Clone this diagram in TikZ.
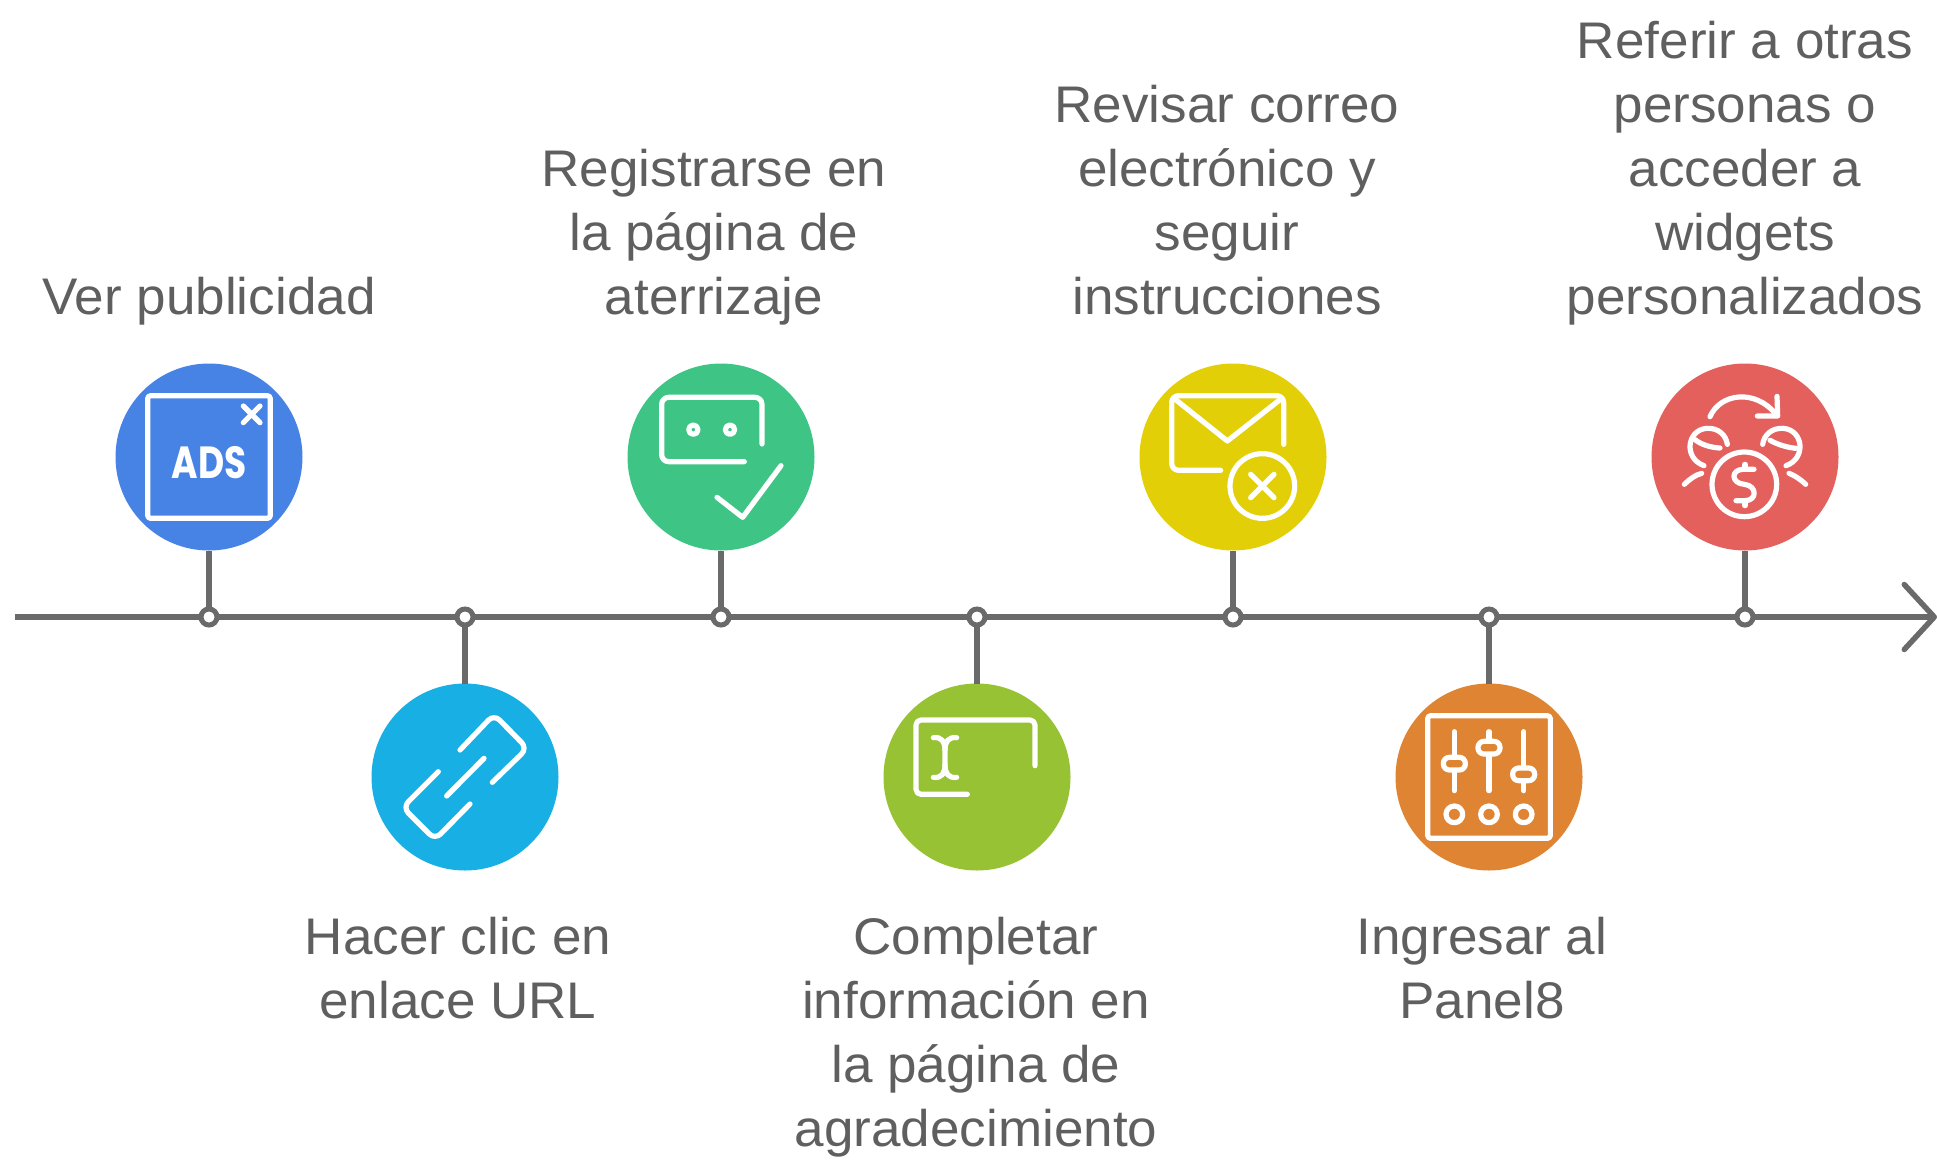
\documentclass[tikz,border=0pt]{standalone}
\usepackage{fontspec}
\setmainfont[FakeStretch=1.03]{Liberation Sans}
\newfontfamily\adsfont{Poppins}
\usetikzlibrary{arrows.meta}
\definecolor{linegrey}{HTML}{6A6A6A}
\definecolor{textgrey}{HTML}{5F5F5F}
\definecolor{cblue}{HTML}{4783E5}
\definecolor{ccyan}{HTML}{18B0E4}
\definecolor{cgreen}{HTML}{3EC585}
\definecolor{clime}{HTML}{96C233}
\definecolor{cyellow}{HTML}{E2CF08}
\definecolor{corange}{HTML}{DE8433}
\definecolor{cred}{HTML}{E3605D}
\tikzset{
  bigcirc/.style={circle,fill=#1,draw=none,inner sep=0pt,outer sep=0pt,minimum size=187pt},
  dotmark/.style={circle,fill=white,draw=linegrey,line width=5pt,inner sep=0pt,minimum size=16pt},
  conn/.style={draw=linegrey,line width=5.5pt},
  lab/.style={text=textgrey,inner sep=0pt,align=center,font=\fontsize{51.5}{64}\selectfont},
  toplab/.style={lab,anchor=south},
  botlab/.style={lab,anchor=north},
  iconline/.style={draw=white,line width=5.2pt,line cap=round,line join=round},
}
\newcommand{\st}{\strut}
\begin{document}
\begin{tikzpicture}[x=1pt,y=-1pt]
\useasboundingbox (0,0) rectangle (1937,1162);
% axis
\coordinate (axisstart) at (15,617);
\coordinate (axisend) at (1937,617);
\draw[conn,-{Straight Barb[length=30pt,width=65pt,round]}] (axisstart) -- (axisend);
% circles
\node[bigcirc=cblue] (c1) at (209,457) {};
\node[bigcirc=ccyan] (c2) at (465,777) {};
\node[bigcirc=cgreen] (c3) at (721,457) {};
\node[bigcirc=clime] (c4) at (977,777) {};
\node[bigcirc=cyellow] (c5) at (1233,457) {};
\node[bigcirc=corange] (c6) at (1489,777) {};
\node[bigcirc=cred] (c7) at (1745,457) {};
% dots
\foreach \n/\x in {1/209,2/465,3/721,4/977,5/1233,6/1489,7/1745}{
  \draw[conn] (c\n) -- (\x,617) coordinate (j\n);
  \node[dotmark] (d\n) at (j\n) {};
}
% labels
\node[toplab] (l1) at (209,334) {\st Ver publicidad};
\node[botlab] (l2) at (458,909) {\st Hacer clic en\\\st enlace URL};
\node[toplab] (l3) at (714,334) {\st Registrarse en\\\st la página de\\\st aterrizaje};
\node[botlab] (l4) at (976,909) {\st Completar\\\st información en\\\st la página de\\\st agradecimiento};
\node[toplab] (l5) at (1227,334) {\st Revisar correo\\\st electrónico y\\\st seguir\\\st instrucciones};
\node[botlab] (l6) at (1482,909) {\st Ingresar al\\\st Panel8};
\node[toplab] (l7) at (1745,334) {\st Referir a otras\\\st personas o\\\st acceder a\\\st widgets\\\st personalizados};
% icon 1
\begin{scope}[xshift=100pt,yshift=-350pt,x=.33333pt,y=-.33333pt]
  \draw[iconline,rounded corners=3pt] (143,137) rectangle (511,505);
  \draw[iconline] (430,168)--(480,218) (480,168)--(430,218);
  \node[text=white,inner sep=0pt,font=\adsfont\bfseries\fontsize{45}{45}\selectfont,xscale=.8] (adsicon) at (327,337) {ADS};
\end{scope}
% icon 2
\begin{scope}[xshift=360pt,yshift=-670pt,x=.33333pt,y=-.33333pt]
  \draw[iconline,rounded corners=8pt] (300,240)--(402,133)--(502,235)--(397,337);
  \draw[iconline,rounded corners=8pt] (235,305)--(128,412)--(225,509)--(330,402);
  \draw[iconline] (260,378)--(372,265);
\end{scope}
% icon 3
\begin{scope}[xshift=620pt,yshift=-355pt,x=.33333pt,y=-.33333pt]
  \draw[iconline,rounded corners=7pt] (426,267)--(426,127)--(125,127)--(125,320)--(373,320);
  \draw[iconline] (220,224) circle[radius=14] (330,224) circle[radius=14];
  \draw[iconline] (291,427)--(368,487)--(483,332);
\end{scope}
% icon 4
\begin{scope}[xshift=880pt,yshift=-670pt,x=.33333pt,y=-.33333pt]
  \draw[iconline,rounded corners=5pt] (465,287)--(465,150)--(108,150)--(108,373)--(262,373);
  \draw[iconline] (160,203) .. controls (185,200) and (195,215) .. (195,240) -- (195,285) .. controls (195,310) and (185,325) .. (160,322);
  \draw[iconline] (230,203) .. controls (205,200) and (195,215) .. (195,240) (195,285) .. controls (195,310) and (205,325) .. (230,322);
\end{scope}
% icon 5
\begin{scope}[xshift=1130pt,yshift=-355pt,x=.33333pt,y=-.33333pt]
  \draw[iconline,rounded corners=7pt] (461,268)--(461,122)--(125,122)--(125,346)--(272,346);
  \draw[iconline] (132,130)--(292,258)--(455,130);
  \draw[iconline] (397,393) circle[radius=97];
  \draw[iconline] (362,358)--(432,428) (432,358)--(362,428);
\end{scope}
% icon 6
\begin{scope}[xshift=1385pt,yshift=-670pt,x=.33333pt,y=-.33333pt]
  \draw[iconline,rounded corners=3pt] (128,137) rectangle (496,505);
  \draw[iconline] (208,185)--(208,362) (312,185)--(312,362) (416,185)--(416,362);
  \foreach \kx/\ky in {208/281,312/233,416/313}{
    \draw[iconline,fill=corange,rounded corners=6pt] (\kx-33,\ky-19) rectangle (\kx+33,\ky+19);
  }
  \foreach \kx in {208,312,416}{
    \draw[iconline] (\kx,433) circle[radius=25];
  }
\end{scope}
% icon 7
\begin{scope}[xshift=1640pt,yshift=-355pt,x=.33333pt,y=-.33333pt]
  \draw[iconline] (210,185) .. controls (240,115) and (345,100) .. (408,178);
  \draw[iconline] (352,183)--(413,183)--(411,124);
  \draw[iconline] (313,388) circle[radius=97];
  \draw[iconline] (342,343)--(310,343) .. controls (272,343) and (272,385) .. (313,388) .. controls (352,392) and (352,437) .. (315,437)--(288,437);
  \draw[iconline] (315,328)--(315,343) (315,437)--(315,452);
  \draw[iconline] (192,332) .. controls (130,310) and (140,225) .. (200,220) .. controls (235,218) and (258,240) .. (262,268);
  \draw[iconline] (165,254) .. controls (185,270) and (215,278) .. (240,279);
  \draw[iconline] (438,332) .. controls (500,310) and (490,225) .. (430,220) .. controls (395,218) and (372,240) .. (368,268);
  \draw[iconline] (390,256) .. controls (415,270) and (445,278) .. (468,280);
  \draw[iconline] (133,388) .. controls (150,372) and (165,360) .. (185,355);
  \draw[iconline] (497,388) .. controls (480,372) and (465,362) .. (447,355);
\end{scope}
\end{tikzpicture}
\end{document}
